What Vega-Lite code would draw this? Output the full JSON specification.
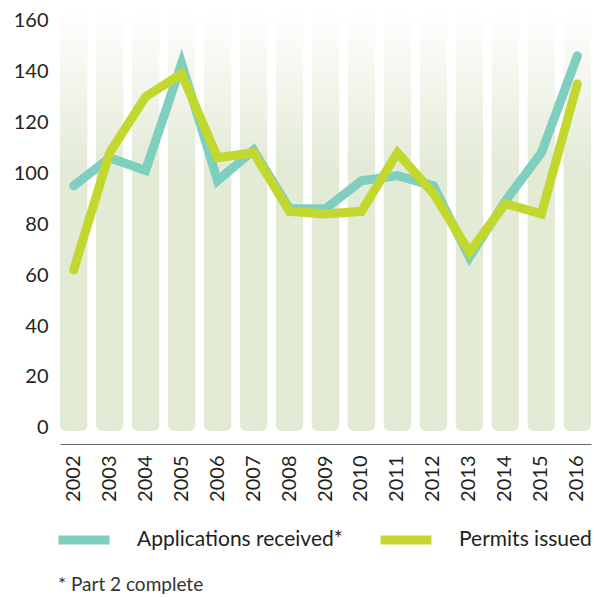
{
  "$schema": "https://vega.github.io/schema/vega-lite/v6.json",
  "width": 531,
  "height": 434,
  "autosize": "none",
  "padding": {"left": 60, "top": 10, "right": 3, "bottom": 153},
  "background": "white",
  "config": {
    "view": {"stroke": null},
    "font": "Lato",
    "axis": {"labelFont": "Lato", "labelColor": "#231f20", "labelFontWeight": "normal"},
    "legend": {"labelFont": "Lato", "labelColor": "#231f20", "labelFontWeight": "normal"}
  },
  "title": {
    "text": "* Part 2 complete",
    "orient": "bottom",
    "anchor": "start",
    "frame": "group",
    "fontSize": 19,
    "fontWeight": "normal",
    "color": "#333333",
    "offset": 18,
    "dx": -2
  },
  "data": {
    "values": [
      {"year": "2002", "series": "Applications received*", "value": 95},
      {"year": "2003", "series": "Applications received*", "value": 106},
      {"year": "2004", "series": "Applications received*", "value": 101},
      {"year": "2005", "series": "Applications received*", "value": 143},
      {"year": "2006", "series": "Applications received*", "value": 97},
      {"year": "2007", "series": "Applications received*", "value": 109},
      {"year": "2008", "series": "Applications received*", "value": 86},
      {"year": "2009", "series": "Applications received*", "value": 86},
      {"year": "2010", "series": "Applications received*", "value": 97},
      {"year": "2011", "series": "Applications received*", "value": 99},
      {"year": "2012", "series": "Applications received*", "value": 95},
      {"year": "2013", "series": "Applications received*", "value": 67},
      {"year": "2014", "series": "Applications received*", "value": 89},
      {"year": "2015", "series": "Applications received*", "value": 108},
      {"year": "2016", "series": "Applications received*", "value": 146},
      {"year": "2002", "series": "Permits issued", "value": 62},
      {"year": "2003", "series": "Permits issued", "value": 108},
      {"year": "2004", "series": "Permits issued", "value": 130},
      {"year": "2005", "series": "Permits issued", "value": 139},
      {"year": "2006", "series": "Permits issued", "value": 106},
      {"year": "2007", "series": "Permits issued", "value": 108},
      {"year": "2008", "series": "Permits issued", "value": 85},
      {"year": "2009", "series": "Permits issued", "value": 84},
      {"year": "2010", "series": "Permits issued", "value": 85},
      {"year": "2011", "series": "Permits issued", "value": 108},
      {"year": "2012", "series": "Permits issued", "value": 92},
      {"year": "2013", "series": "Permits issued", "value": 69},
      {"year": "2014", "series": "Permits issued", "value": 88},
      {"year": "2015", "series": "Permits issued", "value": 84},
      {"year": "2016", "series": "Permits issued", "value": 135}
    ]
  },
  "encoding": {
    "x": {
      "field": "year",
      "type": "nominal",
      "scale": {"paddingInner": 0.24, "paddingOuter": 0},
      "axis": {
        "title": null,
        "labelAngle": -90,
        "labelFontSize": 20,
        "labelPadding": 11,
        "ticks": false,
        "domainColor": "#666666",
        "domainWidth": 1.2,
        "grid": false
      }
    }
  },
  "layer": [
    {
      "mark": {
        "type": "bar",
        "cornerRadius": 6,
        "color": {
          "gradient": "linear",
          "x1": 0, "y1": 0, "x2": 0, "y2": 1,
          "stops": [
            {"offset": 0, "color": "#ffffff"},
            {"offset": 0.38, "color": "#e3ead6"},
            {"offset": 1, "color": "#e3ead6"}
          ]
        }
      },
      "transform": [{"filter": "datum.series === 'Permits issued'"}],
      "encoding": {
        "y": {"datum": 164, "type": "quantitative", "scale": {"domain": [-6.3, 164], "nice": false, "zero": false}},
        "y2": {"datum": -1.2}
      }
    },
    {
      "mark": {"type": "line", "strokeWidth": 9, "strokeCap": "round", "strokeJoin": "miter"},
      "encoding": {
        "y": {
          "field": "value",
          "type": "quantitative",
          "scale": {"domain": [-6.3, 164], "nice": false, "zero": false},
          "axis": {
            "title": null,
            "values": [0, 20, 40, 60, 80, 100, 120, 140, 160],
            "labelFontSize": 20,
            "labelPadding": 12,
            "ticks": false,
            "domain": false,
            "grid": false
          }
        },
        "color": {
          "field": "series",
          "type": "nominal",
          "scale": {"domain": ["Applications received*", "Permits issued"], "range": ["#7ecfbf", "#c2d82e"]},
          "legend": {
            "title": null,
            "orient": "none",
            "direction": "horizontal",
            "legendX": -6,
            "legendY": 500,
            "symbolType": "stroke",
            "symbolSize": 2600,
            "symbolStrokeWidth": 9,
            "labelFontSize": 21,
            "labelOffset": 23,
            "columnPadding": 19,
            "labelLimit": 400
          }
        }
      }
    }
  ]
}
